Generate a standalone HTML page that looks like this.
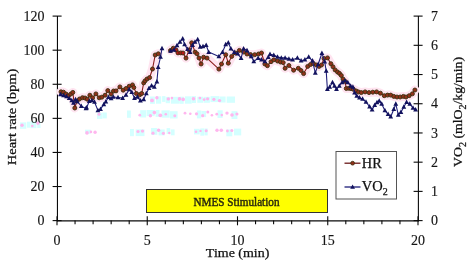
<!DOCTYPE html>
<html><head><meta charset="utf-8"><style>
html,body{margin:0;padding:0;background:#fff;}
svg{display:block;filter:blur(0.25px);}
.t{font-family:"Liberation Serif",serif;font-size:14px;fill:#151515;stroke:#151515;stroke-width:0.14px;}
.s{font-family:"Liberation Serif",serif;font-size:12px;fill:#2a2a10;stroke:#2a2a10;stroke-width:0.45px;}
.a{font-family:"Liberation Serif",serif;font-size:13px;fill:#111;stroke:#111;stroke-width:0.25px;}
.l{font-family:"Liberation Serif",serif;font-size:14.5px;fill:#111;stroke:#111;stroke-width:0.25px;}
</style></head><body>
<svg width="470" height="265" viewBox="0 0 470 265">
<rect x="150.0" y="96.5" width="4.9" height="7.4" fill="#d4ffff"/>
<rect x="156.0" y="96.3" width="5.2" height="7.4" fill="#d4ffff"/>
<rect x="162.1" y="96.1" width="3.4" height="5.8" fill="#d4ffff"/>
<rect x="165.7" y="96.9" width="4.3" height="6.3" fill="#d4ffff"/>
<rect x="170.9" y="96.8" width="8.9" height="6.9" fill="#d4ffff"/>
<rect x="180.0" y="96.7" width="3.7" height="7.1" fill="#d4ffff"/>
<rect x="184.9" y="96.3" width="6.8" height="7.4" fill="#d4ffff"/>
<rect x="191.8" y="96.1" width="4.2" height="6.9" fill="#d4ffff"/>
<rect x="197.3" y="96.7" width="5.7" height="6.1" fill="#d4ffff"/>
<rect x="203.5" y="96.8" width="6.4" height="6.0" fill="#d4ffff"/>
<rect x="210.5" y="96.1" width="8.9" height="6.0" fill="#d4ffff"/>
<rect x="219.7" y="96.5" width="5.9" height="6.0" fill="#d4ffff"/>
<rect x="226.7" y="96.5" width="8.3" height="6.3" fill="#d4ffff"/>
<circle cx="152.0" cy="100.4" r="1.9" fill="#ffb6ee"/>
<circle cx="156.9" cy="97.7" r="1.7" fill="#ffb6ee"/>
<circle cx="168.3" cy="98.9" r="1.7" fill="#ffb6ee"/>
<circle cx="171.9" cy="98.1" r="1.3" fill="#ffb6ee"/>
<circle cx="179.5" cy="98.9" r="1.8" fill="#ffb6ee"/>
<circle cx="183.2" cy="99.4" r="1.8" fill="#ffb6ee"/>
<circle cx="193.5" cy="98.8" r="1.8" fill="#ffb6ee"/>
<circle cx="199.9" cy="98.1" r="1.4" fill="#ffb6ee"/>
<circle cx="204.1" cy="99.6" r="1.4" fill="#ffb6ee"/>
<circle cx="207.6" cy="98.8" r="1.6" fill="#ffb6ee"/>
<circle cx="213.9" cy="99.3" r="1.6" fill="#ffb6ee"/>
<circle cx="219.5" cy="100.6" r="1.7" fill="#ffb6ee"/>
<rect x="97.0" y="113.0" width="5.4" height="5.9" fill="#d4ffff"/>
<rect x="102.5" y="112.5" width="4.3" height="5.9" fill="#d4ffff"/>
<circle cx="99.0" cy="114.2" r="1.5" fill="#ffb6ee"/>
<rect x="127.0" y="110.5" width="3.9" height="7.3" fill="#d4ffff"/>
<rect x="140.2" y="110.2" width="5.9" height="7.3" fill="#d4ffff"/>
<rect x="146.6" y="110.0" width="8.0" height="6.1" fill="#d4ffff"/>
<rect x="155.6" y="110.0" width="3.9" height="6.9" fill="#d4ffff"/>
<rect x="161.5" y="110.4" width="8.2" height="7.3" fill="#d4ffff"/>
<rect x="170.0" y="111.2" width="7.6" height="7.3" fill="#d4ffff"/>
<rect x="196.9" y="110.5" width="4.4" height="7.9" fill="#d4ffff"/>
<rect x="201.4" y="111.0" width="4.7" height="6.1" fill="#d4ffff"/>
<rect x="217.5" y="110.3" width="5.2" height="7.6" fill="#d4ffff"/>
<rect x="231.5" y="111.2" width="5.9" height="7.8" fill="#d4ffff"/>
<circle cx="139.8" cy="115.2" r="1.4" fill="#ffb6ee"/>
<circle cx="150.4" cy="115.8" r="1.7" fill="#ffb6ee"/>
<circle cx="154.4" cy="112.6" r="1.8" fill="#ffb6ee"/>
<circle cx="160.3" cy="115.3" r="1.9" fill="#ffb6ee"/>
<circle cx="165.8" cy="114.2" r="1.3" fill="#ffb6ee"/>
<circle cx="174.8" cy="115.7" r="1.5" fill="#ffb6ee"/>
<circle cx="185.0" cy="113.2" r="1.4" fill="#ffb6ee"/>
<circle cx="190.3" cy="113.7" r="1.3" fill="#ffb6ee"/>
<circle cx="196.5" cy="113.8" r="1.6" fill="#ffb6ee"/>
<circle cx="202.7" cy="115.7" r="1.6" fill="#ffb6ee"/>
<circle cx="207.8" cy="112.1" r="1.5" fill="#ffb6ee"/>
<circle cx="211.9" cy="115.2" r="1.3" fill="#ffb6ee"/>
<circle cx="216.8" cy="114.2" r="1.4" fill="#ffb6ee"/>
<circle cx="221.8" cy="115.1" r="1.3" fill="#ffb6ee"/>
<circle cx="227.0" cy="113.1" r="1.7" fill="#ffb6ee"/>
<circle cx="232.0" cy="115.0" r="1.8" fill="#ffb6ee"/>
<circle cx="236.9" cy="114.0" r="1.6" fill="#ffb6ee"/>
<rect x="85.0" y="129.7" width="5.7" height="4.1" fill="#d4ffff"/>
<circle cx="87.0" cy="132.9" r="1.8" fill="#ffb6ee"/>
<circle cx="90.9" cy="131.9" r="1.3" fill="#ffb6ee"/>
<circle cx="95.1" cy="132.3" r="1.7" fill="#ffb6ee"/>
<rect x="130.0" y="129.0" width="3.9" height="7.2" fill="#d4ffff"/>
<rect x="135.7" y="129.4" width="8.8" height="6.7" fill="#d4ffff"/>
<circle cx="138.0" cy="131.5" r="1.6" fill="#ffb6ee"/>
<circle cx="142.5" cy="131.1" r="1.7" fill="#ffb6ee"/>
<rect x="151.0" y="128.0" width="6.3" height="6.8" fill="#d4ffff"/>
<rect x="158.6" y="129.5" width="6.1" height="5.9" fill="#d4ffff"/>
<rect x="166.6" y="128.1" width="3.6" height="5.9" fill="#d4ffff"/>
<rect x="170.8" y="129.4" width="3.8" height="5.9" fill="#d4ffff"/>
<circle cx="153.0" cy="133.2" r="1.6" fill="#ffb6ee"/>
<circle cx="158.6" cy="130.2" r="1.7" fill="#ffb6ee"/>
<circle cx="163.4" cy="133.3" r="1.6" fill="#ffb6ee"/>
<circle cx="169.3" cy="133.0" r="1.2" fill="#ffb6ee"/>
<rect x="194.0" y="128.8" width="5.7" height="5.6" fill="#d4ffff"/>
<rect x="200.3" y="128.4" width="3.8" height="7.3" fill="#d4ffff"/>
<rect x="204.4" y="128.5" width="3.3" height="6.9" fill="#d4ffff"/>
<circle cx="196.0" cy="131.8" r="1.3" fill="#ffb6ee"/>
<circle cx="200.5" cy="130.9" r="1.2" fill="#ffb6ee"/>
<circle cx="206.2" cy="130.7" r="1.5" fill="#ffb6ee"/>
<rect x="226.3" y="129.5" width="6.0" height="6.8" fill="#d4ffff"/>
<rect x="234.0" y="128.6" width="7.2" height="6.8" fill="#d4ffff"/>
<circle cx="217.0" cy="130.2" r="1.7" fill="#ffb6ee"/>
<circle cx="221.3" cy="130.3" r="1.8" fill="#ffb6ee"/>
<circle cx="227.4" cy="131.0" r="1.4" fill="#ffb6ee"/>
<circle cx="231.8" cy="130.6" r="1.5" fill="#ffb6ee"/>
<rect x="20.0" y="122.4" width="6.3" height="6.4" fill="#d4ffff"/>
<rect x="27.0" y="121.7" width="3.0" height="6.0" fill="#d4ffff"/>
<rect x="30.4" y="121.4" width="6.0" height="6.8" fill="#d4ffff"/>
<rect x="37.2" y="121.5" width="3.3" height="6.5" fill="#d4ffff"/>
<circle cx="22.0" cy="125.3" r="1.7" fill="#ffb6ee"/>
<circle cx="32.3" cy="126.0" r="1.3" fill="#ffb6ee"/>
<circle cx="38.0" cy="123.1" r="1.8" fill="#ffb6ee"/>
<line x1="57.45" y1="16.1" x2="57.45" y2="221.4" stroke="#0a0a0a" stroke-width="1.1"/>
<line x1="418.4" y1="16.1" x2="418.4" y2="221.4" stroke="#0a0a0a" stroke-width="1.1"/>
<line x1="57.45" y1="220.85" x2="418.4" y2="220.85" stroke="#0a0a0a" stroke-width="1.15"/>
<line x1="52.6" y1="220.60" x2="61.6" y2="220.60" stroke="#0a0a0a" stroke-width="1.1"/>
<text x="44.6" y="225.40" text-anchor="end" class="t">0</text>
<line x1="52.6" y1="186.52" x2="61.6" y2="186.52" stroke="#0a0a0a" stroke-width="1.1"/>
<text x="44.6" y="191.32" text-anchor="end" class="t">20</text>
<line x1="52.6" y1="152.43" x2="61.6" y2="152.43" stroke="#0a0a0a" stroke-width="1.1"/>
<text x="44.6" y="157.23" text-anchor="end" class="t">40</text>
<line x1="52.6" y1="118.35" x2="61.6" y2="118.35" stroke="#0a0a0a" stroke-width="1.1"/>
<text x="44.6" y="123.15" text-anchor="end" class="t">60</text>
<line x1="52.6" y1="84.27" x2="61.6" y2="84.27" stroke="#0a0a0a" stroke-width="1.1"/>
<text x="44.6" y="89.07" text-anchor="end" class="t">80</text>
<line x1="52.6" y1="50.18" x2="61.6" y2="50.18" stroke="#0a0a0a" stroke-width="1.1"/>
<text x="44.6" y="54.98" text-anchor="end" class="t">100</text>
<line x1="52.6" y1="16.10" x2="61.6" y2="16.10" stroke="#0a0a0a" stroke-width="1.1"/>
<text x="44.6" y="20.90" text-anchor="end" class="t">120</text>
<line x1="413.6" y1="220.60" x2="422.6" y2="220.60" stroke="#0a0a0a" stroke-width="1.1"/>
<text x="431" y="225.20" class="t">0</text>
<line x1="413.6" y1="191.39" x2="422.6" y2="191.39" stroke="#0a0a0a" stroke-width="1.1"/>
<text x="431" y="195.99" class="t">1</text>
<line x1="413.6" y1="162.17" x2="422.6" y2="162.17" stroke="#0a0a0a" stroke-width="1.1"/>
<text x="431" y="166.77" class="t">2</text>
<line x1="413.6" y1="132.96" x2="422.6" y2="132.96" stroke="#0a0a0a" stroke-width="1.1"/>
<text x="431" y="137.56" class="t">3</text>
<line x1="413.6" y1="103.74" x2="422.6" y2="103.74" stroke="#0a0a0a" stroke-width="1.1"/>
<text x="431" y="108.34" class="t">4</text>
<line x1="413.6" y1="74.53" x2="422.6" y2="74.53" stroke="#0a0a0a" stroke-width="1.1"/>
<text x="431" y="79.13" class="t">5</text>
<line x1="413.6" y1="45.31" x2="422.6" y2="45.31" stroke="#0a0a0a" stroke-width="1.1"/>
<text x="431" y="49.91" class="t">6</text>
<line x1="413.6" y1="16.10" x2="422.6" y2="16.10" stroke="#0a0a0a" stroke-width="1.1"/>
<text x="431" y="20.70" class="t">7</text>
<line x1="57.00" y1="216.3" x2="57.00" y2="225.3" stroke="#0a0a0a" stroke-width="1.1"/>
<text x="57.00" y="245" text-anchor="middle" class="t">0</text>
<line x1="75.05" y1="220.6" x2="75.05" y2="224.2" stroke="#0a0a0a" stroke-width="1.1"/>
<line x1="93.10" y1="220.6" x2="93.10" y2="224.2" stroke="#0a0a0a" stroke-width="1.1"/>
<line x1="111.15" y1="220.6" x2="111.15" y2="224.2" stroke="#0a0a0a" stroke-width="1.1"/>
<line x1="129.20" y1="220.6" x2="129.20" y2="224.2" stroke="#0a0a0a" stroke-width="1.1"/>
<line x1="147.25" y1="216.3" x2="147.25" y2="225.3" stroke="#0a0a0a" stroke-width="1.1"/>
<text x="147.25" y="245" text-anchor="middle" class="t">5</text>
<line x1="165.30" y1="220.6" x2="165.30" y2="224.2" stroke="#0a0a0a" stroke-width="1.1"/>
<line x1="183.35" y1="220.6" x2="183.35" y2="224.2" stroke="#0a0a0a" stroke-width="1.1"/>
<line x1="201.40" y1="220.6" x2="201.40" y2="224.2" stroke="#0a0a0a" stroke-width="1.1"/>
<line x1="219.45" y1="220.6" x2="219.45" y2="224.2" stroke="#0a0a0a" stroke-width="1.1"/>
<line x1="237.50" y1="216.3" x2="237.50" y2="225.3" stroke="#0a0a0a" stroke-width="1.1"/>
<text x="237.50" y="245" text-anchor="middle" class="t">10</text>
<line x1="255.55" y1="220.6" x2="255.55" y2="224.2" stroke="#0a0a0a" stroke-width="1.1"/>
<line x1="273.60" y1="220.6" x2="273.60" y2="224.2" stroke="#0a0a0a" stroke-width="1.1"/>
<line x1="291.65" y1="220.6" x2="291.65" y2="224.2" stroke="#0a0a0a" stroke-width="1.1"/>
<line x1="309.70" y1="220.6" x2="309.70" y2="224.2" stroke="#0a0a0a" stroke-width="1.1"/>
<line x1="327.75" y1="216.3" x2="327.75" y2="225.3" stroke="#0a0a0a" stroke-width="1.1"/>
<text x="327.75" y="245" text-anchor="middle" class="t">15</text>
<line x1="345.80" y1="220.6" x2="345.80" y2="224.2" stroke="#0a0a0a" stroke-width="1.1"/>
<line x1="363.85" y1="220.6" x2="363.85" y2="224.2" stroke="#0a0a0a" stroke-width="1.1"/>
<line x1="381.90" y1="220.6" x2="381.90" y2="224.2" stroke="#0a0a0a" stroke-width="1.1"/>
<line x1="399.95" y1="220.6" x2="399.95" y2="224.2" stroke="#0a0a0a" stroke-width="1.1"/>
<line x1="418.00" y1="216.3" x2="418.00" y2="225.3" stroke="#0a0a0a" stroke-width="1.1"/>
<text x="418.00" y="245" text-anchor="middle" class="t">20</text>
<rect x="146.5" y="189.5" width="181" height="23" fill="#ffff00" stroke="#333" stroke-width="1"/>
<text x="236.5" y="205.6" text-anchor="middle" class="s" textLength="86" lengthAdjust="spacingAndGlyphs">NMES Stimulation</text>
<polyline points="61.0,91.8 63.5,92.2 66.0,94.0 68.5,95.8 70.8,94.0 72.8,92.4 74.8,108.0 77.0,101.0 79.5,99.0 82.5,97.7 85.0,98.0 87.3,99.2 89.9,95.2 92.6,97.8 95.9,93.9 99.2,97.8 101.8,97.2 105.1,95.2 107.8,90.6 111.1,93.9 113.5,91.0 116.0,90.9 119.9,86.9 123.2,90.2 126.0,88.5 129.2,86.2 132.5,84.9 133.8,87.5 136.4,93.5 139.7,94.8 141.7,93.5 143.7,82.9 145.0,80.9 147.0,79.0 149.6,77.6 152.5,69.0 155.2,55.0 158.3,53.8" fill="none" stroke="#ffe4f0" stroke-width="9" stroke-linejoin="round" stroke-linecap="round"/>
<polyline points="170.5,50.5 173.3,48.2 176.0,50.0 178.0,52.9 180.8,52.9 183.0,53.0 186.0,58.1 189.0,50.0 191.7,42.8 195.1,52.1 197.0,53.8 199.0,58.0 201.1,64.0 203.6,57.2 207.0,58.1 218.9,69.1 221.5,64.0 225.7,54.7 228.3,63.2 231.7,56.4 235.5,53.0 239.4,50.4 243.5,52.0 247.0,54.0 250.5,54.6 254.7,54.7 258.5,54.0 261.5,53.0 264.9,64.0 267.4,65.7 271.0,61.7 273.8,59.8 277.5,61.0 280.5,62.0 283.2,62.6 285.1,68.3 288.9,65.5 293.6,70.2 298.3,68.3 301.0,70.5 303.6,73.6 307.7,66.4 310.5,64.5 313.4,63.6 316.3,65.0 319.1,66.4 321.5,65.0 324.0,58.5 327.5,57.9 330.9,63.7 333.0,66.8 335.1,69.9 337.5,72.0 339.5,73.4 341.3,75.5 343.0,79.0 345.0,81.3 346.3,88.5 348.9,88.3 351.0,88.6 353.4,89.3 356.3,91.0 358.5,92.0 361.3,92.6 365.1,91.9 369.0,92.6 372.8,92.2 376.6,91.9 380.4,93.2 384.3,95.7 387.5,95.1 390.7,95.1 393.8,96.4 397.0,97.0 400.2,97.0 403.4,96.4 406.0,97.0 409.2,95.7 412.4,93.8 414.9,90.0" fill="none" stroke="#ffe4f0" stroke-width="9" stroke-linejoin="round" stroke-linecap="round"/>
<polyline points="61.0,91.8 63.5,92.2 66.0,94.0 68.5,95.8 70.8,94.0 72.8,92.4 74.8,108.0 77.0,101.0 79.5,99.0 82.5,97.7 85.0,98.0 87.3,99.2 89.9,95.2 92.6,97.8 95.9,93.9 99.2,97.8 101.8,97.2 105.1,95.2 107.8,90.6 111.1,93.9 113.5,91.0 116.0,90.9 119.9,86.9 123.2,90.2 126.0,88.5 129.2,86.2 132.5,84.9 133.8,87.5 136.4,93.5 139.7,94.8 141.7,93.5 143.7,82.9 145.0,80.9 147.0,79.0 149.6,77.6 152.5,69.0 155.2,55.0 158.3,53.8" fill="none" stroke="#8b1a1a" stroke-width="1.1" stroke-linejoin="round"/>
<polyline points="170.5,50.5 173.3,48.2 176.0,50.0 178.0,52.9 180.8,52.9 183.0,53.0 186.0,58.1 189.0,50.0 191.7,42.8 195.1,52.1 197.0,53.8 199.0,58.0 201.1,64.0 203.6,57.2 207.0,58.1 218.9,69.1 221.5,64.0 225.7,54.7 228.3,63.2 231.7,56.4 235.5,53.0 239.4,50.4 243.5,52.0 247.0,54.0 250.5,54.6 254.7,54.7 258.5,54.0 261.5,53.0 264.9,64.0 267.4,65.7 271.0,61.7 273.8,59.8 277.5,61.0 280.5,62.0 283.2,62.6 285.1,68.3 288.9,65.5 293.6,70.2 298.3,68.3 301.0,70.5 303.6,73.6 307.7,66.4 310.5,64.5 313.4,63.6 316.3,65.0 319.1,66.4 321.5,65.0 324.0,58.5 327.5,57.9 330.9,63.7 333.0,66.8 335.1,69.9 337.5,72.0 339.5,73.4 341.3,75.5 343.0,79.0 345.0,81.3 346.3,88.5 348.9,88.3 351.0,88.6 353.4,89.3 356.3,91.0 358.5,92.0 361.3,92.6 365.1,91.9 369.0,92.6 372.8,92.2 376.6,91.9 380.4,93.2 384.3,95.7 387.5,95.1 390.7,95.1 393.8,96.4 397.0,97.0 400.2,97.0 403.4,96.4 406.0,97.0 409.2,95.7 412.4,93.8 414.9,90.0" fill="none" stroke="#8b1a1a" stroke-width="1.1" stroke-linejoin="round"/>
<circle cx="61.0" cy="91.8" r="2.0" fill="#92301a" stroke="#3a3010" stroke-width="0.9"/>
<circle cx="63.5" cy="92.2" r="2.0" fill="#92301a" stroke="#3a3010" stroke-width="0.9"/>
<circle cx="66.0" cy="94.0" r="2.0" fill="#92301a" stroke="#3a3010" stroke-width="0.9"/>
<circle cx="68.5" cy="95.8" r="2.0" fill="#92301a" stroke="#3a3010" stroke-width="0.9"/>
<circle cx="70.8" cy="94.0" r="2.0" fill="#92301a" stroke="#3a3010" stroke-width="0.9"/>
<circle cx="72.8" cy="92.4" r="2.0" fill="#92301a" stroke="#3a3010" stroke-width="0.9"/>
<circle cx="74.8" cy="108.0" r="2.0" fill="#92301a" stroke="#3a3010" stroke-width="0.9"/>
<circle cx="77.0" cy="101.0" r="2.0" fill="#92301a" stroke="#3a3010" stroke-width="0.9"/>
<circle cx="79.5" cy="99.0" r="2.0" fill="#92301a" stroke="#3a3010" stroke-width="0.9"/>
<circle cx="82.5" cy="97.7" r="2.0" fill="#92301a" stroke="#3a3010" stroke-width="0.9"/>
<circle cx="85.0" cy="98.0" r="2.0" fill="#92301a" stroke="#3a3010" stroke-width="0.9"/>
<circle cx="87.3" cy="99.2" r="2.0" fill="#92301a" stroke="#3a3010" stroke-width="0.9"/>
<circle cx="89.9" cy="95.2" r="2.0" fill="#92301a" stroke="#3a3010" stroke-width="0.9"/>
<circle cx="92.6" cy="97.8" r="2.0" fill="#92301a" stroke="#3a3010" stroke-width="0.9"/>
<circle cx="95.9" cy="93.9" r="2.0" fill="#92301a" stroke="#3a3010" stroke-width="0.9"/>
<circle cx="99.2" cy="97.8" r="2.0" fill="#92301a" stroke="#3a3010" stroke-width="0.9"/>
<circle cx="101.8" cy="97.2" r="2.0" fill="#92301a" stroke="#3a3010" stroke-width="0.9"/>
<circle cx="105.1" cy="95.2" r="2.0" fill="#92301a" stroke="#3a3010" stroke-width="0.9"/>
<circle cx="107.8" cy="90.6" r="2.0" fill="#92301a" stroke="#3a3010" stroke-width="0.9"/>
<circle cx="111.1" cy="93.9" r="2.0" fill="#92301a" stroke="#3a3010" stroke-width="0.9"/>
<circle cx="113.5" cy="91.0" r="2.0" fill="#92301a" stroke="#3a3010" stroke-width="0.9"/>
<circle cx="116.0" cy="90.9" r="2.0" fill="#92301a" stroke="#3a3010" stroke-width="0.9"/>
<circle cx="119.9" cy="86.9" r="2.0" fill="#92301a" stroke="#3a3010" stroke-width="0.9"/>
<circle cx="123.2" cy="90.2" r="2.0" fill="#92301a" stroke="#3a3010" stroke-width="0.9"/>
<circle cx="126.0" cy="88.5" r="2.0" fill="#92301a" stroke="#3a3010" stroke-width="0.9"/>
<circle cx="129.2" cy="86.2" r="2.0" fill="#92301a" stroke="#3a3010" stroke-width="0.9"/>
<circle cx="132.5" cy="84.9" r="2.0" fill="#92301a" stroke="#3a3010" stroke-width="0.9"/>
<circle cx="133.8" cy="87.5" r="2.0" fill="#92301a" stroke="#3a3010" stroke-width="0.9"/>
<circle cx="136.4" cy="93.5" r="2.0" fill="#92301a" stroke="#3a3010" stroke-width="0.9"/>
<circle cx="139.7" cy="94.8" r="2.0" fill="#92301a" stroke="#3a3010" stroke-width="0.9"/>
<circle cx="141.7" cy="93.5" r="2.0" fill="#92301a" stroke="#3a3010" stroke-width="0.9"/>
<circle cx="143.7" cy="82.9" r="2.0" fill="#92301a" stroke="#3a3010" stroke-width="0.9"/>
<circle cx="145.0" cy="80.9" r="2.0" fill="#92301a" stroke="#3a3010" stroke-width="0.9"/>
<circle cx="147.0" cy="79.0" r="2.0" fill="#92301a" stroke="#3a3010" stroke-width="0.9"/>
<circle cx="149.6" cy="77.6" r="2.0" fill="#92301a" stroke="#3a3010" stroke-width="0.9"/>
<circle cx="152.5" cy="69.0" r="2.0" fill="#92301a" stroke="#3a3010" stroke-width="0.9"/>
<circle cx="155.2" cy="55.0" r="2.0" fill="#92301a" stroke="#3a3010" stroke-width="0.9"/>
<circle cx="158.3" cy="53.8" r="2.0" fill="#92301a" stroke="#3a3010" stroke-width="0.9"/>
<circle cx="170.5" cy="50.5" r="2.0" fill="#92301a" stroke="#3a3010" stroke-width="0.9"/>
<circle cx="173.3" cy="48.2" r="2.0" fill="#92301a" stroke="#3a3010" stroke-width="0.9"/>
<circle cx="176.0" cy="50.0" r="2.0" fill="#b81818" stroke="#3a3010" stroke-width="0.9"/>
<circle cx="178.0" cy="52.9" r="2.0" fill="#b81818" stroke="#3a3010" stroke-width="0.9"/>
<circle cx="180.8" cy="52.9" r="2.0" fill="#b81818" stroke="#3a3010" stroke-width="0.9"/>
<circle cx="183.0" cy="53.0" r="2.0" fill="#b81818" stroke="#3a3010" stroke-width="0.9"/>
<circle cx="186.0" cy="58.1" r="2.0" fill="#92301a" stroke="#3a3010" stroke-width="0.9"/>
<circle cx="189.0" cy="50.0" r="2.0" fill="#92301a" stroke="#3a3010" stroke-width="0.9"/>
<circle cx="191.7" cy="42.8" r="2.0" fill="#92301a" stroke="#3a3010" stroke-width="0.9"/>
<circle cx="195.1" cy="52.1" r="2.0" fill="#92301a" stroke="#3a3010" stroke-width="0.9"/>
<circle cx="197.0" cy="53.8" r="2.0" fill="#92301a" stroke="#3a3010" stroke-width="0.9"/>
<circle cx="199.0" cy="58.0" r="2.0" fill="#92301a" stroke="#3a3010" stroke-width="0.9"/>
<circle cx="201.1" cy="64.0" r="2.0" fill="#92301a" stroke="#3a3010" stroke-width="0.9"/>
<circle cx="203.6" cy="57.2" r="2.0" fill="#92301a" stroke="#3a3010" stroke-width="0.9"/>
<circle cx="207.0" cy="58.1" r="2.0" fill="#92301a" stroke="#3a3010" stroke-width="0.9"/>
<circle cx="218.9" cy="69.1" r="2.0" fill="#92301a" stroke="#3a3010" stroke-width="0.9"/>
<circle cx="221.5" cy="64.0" r="2.0" fill="#92301a" stroke="#3a3010" stroke-width="0.9"/>
<circle cx="225.7" cy="54.7" r="2.0" fill="#92301a" stroke="#3a3010" stroke-width="0.9"/>
<circle cx="228.3" cy="63.2" r="2.0" fill="#92301a" stroke="#3a3010" stroke-width="0.9"/>
<circle cx="231.7" cy="56.4" r="2.0" fill="#92301a" stroke="#3a3010" stroke-width="0.9"/>
<circle cx="235.5" cy="53.0" r="2.0" fill="#92301a" stroke="#3a3010" stroke-width="0.9"/>
<circle cx="239.4" cy="50.4" r="2.0" fill="#92301a" stroke="#3a3010" stroke-width="0.9"/>
<circle cx="243.5" cy="52.0" r="2.0" fill="#92301a" stroke="#3a3010" stroke-width="0.9"/>
<circle cx="247.0" cy="54.0" r="2.0" fill="#92301a" stroke="#3a3010" stroke-width="0.9"/>
<circle cx="250.5" cy="54.6" r="2.0" fill="#92301a" stroke="#3a3010" stroke-width="0.9"/>
<circle cx="254.7" cy="54.7" r="2.0" fill="#92301a" stroke="#3a3010" stroke-width="0.9"/>
<circle cx="258.5" cy="54.0" r="2.0" fill="#92301a" stroke="#3a3010" stroke-width="0.9"/>
<circle cx="261.5" cy="53.0" r="2.0" fill="#92301a" stroke="#3a3010" stroke-width="0.9"/>
<circle cx="264.9" cy="64.0" r="2.0" fill="#92301a" stroke="#3a3010" stroke-width="0.9"/>
<circle cx="267.4" cy="65.7" r="2.0" fill="#92301a" stroke="#3a3010" stroke-width="0.9"/>
<circle cx="271.0" cy="61.7" r="2.0" fill="#92301a" stroke="#3a3010" stroke-width="0.9"/>
<circle cx="273.8" cy="59.8" r="2.0" fill="#92301a" stroke="#3a3010" stroke-width="0.9"/>
<circle cx="277.5" cy="61.0" r="2.0" fill="#92301a" stroke="#3a3010" stroke-width="0.9"/>
<circle cx="280.5" cy="62.0" r="2.0" fill="#92301a" stroke="#3a3010" stroke-width="0.9"/>
<circle cx="283.2" cy="62.6" r="2.0" fill="#92301a" stroke="#3a3010" stroke-width="0.9"/>
<circle cx="285.1" cy="68.3" r="2.0" fill="#92301a" stroke="#3a3010" stroke-width="0.9"/>
<circle cx="288.9" cy="65.5" r="2.0" fill="#92301a" stroke="#3a3010" stroke-width="0.9"/>
<circle cx="293.6" cy="70.2" r="2.0" fill="#92301a" stroke="#3a3010" stroke-width="0.9"/>
<circle cx="298.3" cy="68.3" r="2.0" fill="#92301a" stroke="#3a3010" stroke-width="0.9"/>
<circle cx="301.0" cy="70.5" r="2.0" fill="#92301a" stroke="#3a3010" stroke-width="0.9"/>
<circle cx="303.6" cy="73.6" r="2.0" fill="#92301a" stroke="#3a3010" stroke-width="0.9"/>
<circle cx="307.7" cy="66.4" r="2.0" fill="#92301a" stroke="#3a3010" stroke-width="0.9"/>
<circle cx="310.5" cy="64.5" r="2.0" fill="#92301a" stroke="#3a3010" stroke-width="0.9"/>
<circle cx="313.4" cy="63.6" r="2.0" fill="#92301a" stroke="#3a3010" stroke-width="0.9"/>
<circle cx="316.3" cy="65.0" r="2.0" fill="#92301a" stroke="#3a3010" stroke-width="0.9"/>
<circle cx="319.1" cy="66.4" r="2.0" fill="#92301a" stroke="#3a3010" stroke-width="0.9"/>
<circle cx="321.5" cy="65.0" r="2.0" fill="#92301a" stroke="#3a3010" stroke-width="0.9"/>
<circle cx="324.0" cy="58.5" r="2.0" fill="#92301a" stroke="#3a3010" stroke-width="0.9"/>
<circle cx="327.5" cy="57.9" r="2.0" fill="#92301a" stroke="#3a3010" stroke-width="0.9"/>
<circle cx="330.9" cy="63.7" r="2.0" fill="#92301a" stroke="#3a3010" stroke-width="0.9"/>
<circle cx="333.0" cy="66.8" r="2.0" fill="#92301a" stroke="#3a3010" stroke-width="0.9"/>
<circle cx="335.1" cy="69.9" r="2.0" fill="#92301a" stroke="#3a3010" stroke-width="0.9"/>
<circle cx="337.5" cy="72.0" r="2.0" fill="#92301a" stroke="#3a3010" stroke-width="0.9"/>
<circle cx="339.5" cy="73.4" r="2.0" fill="#92301a" stroke="#3a3010" stroke-width="0.9"/>
<circle cx="341.3" cy="75.5" r="2.0" fill="#92301a" stroke="#3a3010" stroke-width="0.9"/>
<circle cx="343.0" cy="79.0" r="2.0" fill="#92301a" stroke="#3a3010" stroke-width="0.9"/>
<circle cx="345.0" cy="81.3" r="2.0" fill="#92301a" stroke="#3a3010" stroke-width="0.9"/>
<circle cx="346.3" cy="88.5" r="2.0" fill="#92301a" stroke="#3a3010" stroke-width="0.9"/>
<circle cx="348.9" cy="88.3" r="2.0" fill="#92301a" stroke="#3a3010" stroke-width="0.9"/>
<circle cx="351.0" cy="88.6" r="2.0" fill="#92301a" stroke="#3a3010" stroke-width="0.9"/>
<circle cx="353.4" cy="89.3" r="2.0" fill="#92301a" stroke="#3a3010" stroke-width="0.9"/>
<circle cx="356.3" cy="91.0" r="2.0" fill="#92301a" stroke="#3a3010" stroke-width="0.9"/>
<circle cx="358.5" cy="92.0" r="2.0" fill="#92301a" stroke="#3a3010" stroke-width="0.9"/>
<circle cx="361.3" cy="92.6" r="2.0" fill="#92301a" stroke="#3a3010" stroke-width="0.9"/>
<circle cx="365.1" cy="91.9" r="2.0" fill="#92301a" stroke="#3a3010" stroke-width="0.9"/>
<circle cx="369.0" cy="92.6" r="2.0" fill="#92301a" stroke="#3a3010" stroke-width="0.9"/>
<circle cx="372.8" cy="92.2" r="2.0" fill="#92301a" stroke="#3a3010" stroke-width="0.9"/>
<circle cx="376.6" cy="91.9" r="2.0" fill="#92301a" stroke="#3a3010" stroke-width="0.9"/>
<circle cx="380.4" cy="93.2" r="2.0" fill="#92301a" stroke="#3a3010" stroke-width="0.9"/>
<circle cx="384.3" cy="95.7" r="2.0" fill="#92301a" stroke="#3a3010" stroke-width="0.9"/>
<circle cx="387.5" cy="95.1" r="2.0" fill="#92301a" stroke="#3a3010" stroke-width="0.9"/>
<circle cx="390.7" cy="95.1" r="2.0" fill="#92301a" stroke="#3a3010" stroke-width="0.9"/>
<circle cx="393.8" cy="96.4" r="2.0" fill="#92301a" stroke="#3a3010" stroke-width="0.9"/>
<circle cx="397.0" cy="97.0" r="2.0" fill="#92301a" stroke="#3a3010" stroke-width="0.9"/>
<circle cx="400.2" cy="97.0" r="2.0" fill="#92301a" stroke="#3a3010" stroke-width="0.9"/>
<circle cx="403.4" cy="96.4" r="2.0" fill="#92301a" stroke="#3a3010" stroke-width="0.9"/>
<circle cx="406.0" cy="97.0" r="2.0" fill="#92301a" stroke="#3a3010" stroke-width="0.9"/>
<circle cx="409.2" cy="95.7" r="2.0" fill="#92301a" stroke="#3a3010" stroke-width="0.9"/>
<circle cx="412.4" cy="93.8" r="2.0" fill="#92301a" stroke="#3a3010" stroke-width="0.9"/>
<circle cx="414.9" cy="90.0" r="2.0" fill="#92301a" stroke="#3a3010" stroke-width="0.9"/>
<polyline points="60.5,94.5 63.5,95.5 66.5,96.5 69.2,98.2 71.8,100.5 73.5,103.0 75.5,99.5 77.1,101.4 81.3,106.2 86.0,108.4 86.6,107.7 89.3,101.1 91.9,100.5 94.5,102.0 97.9,110.4 100.5,109.1 103.8,104.4 105.8,101.8 108.4,97.2 111.1,98.5 113.3,97.0 118.0,97.5 122.6,98.1 126.0,95.0 129.2,89.5 131.8,92.2 134.5,98.1 137.5,97.0 140.4,100.8 143.7,99.4 146.3,93.5 149.0,88.2 151.6,85.6 154.3,86.9 156.9,81.6 158.2,67.1 160.5,57.0 162.0,48.5" fill="none" stroke="#20207a" stroke-width="1.1" stroke-linejoin="round"/>
<polyline points="170.5,51.0 174.0,50.0 177.0,45.4 180.0,42.0 182.7,38.8 184.6,44.4 187.5,49.2 190.2,52.1 192.6,45.3 195.0,42.0 197.7,39.4 200.2,47.0 203.0,46.5 206.2,45.3 208.7,52.1 218.9,56.4 222.5,52.1 225.7,44.5 228.3,42.8 230.9,48.7 234.3,52.1 237.7,53.8 241.1,58.1 243.6,48.7 247.0,50.4 251.3,56.4 253.8,61.5 258.1,58.1 261.5,59.8 264.9,61.5 268.3,57.2 270.0,54.2 273.8,55.1 277.5,57.0 281.3,57.9 285.1,57.9 288.9,58.9 292.6,59.8 297.4,57.9 301.1,60.8 304.9,59.8 308.7,57.0 312.5,60.8 315.3,73.0 318.1,64.5 321.9,53.2 324.7,61.7 326.2,71.0 327.4,89.3 329.7,87.0 332.5,82.5 334.5,86.0 336.5,89.3 339.3,85.9 342.1,82.5 345.0,80.8 347.8,82.5 350.6,85.9 352.9,87.0 354.6,92.6 356.8,96.0 359.5,97.7 362.6,98.9 366.0,102.0 369.6,106.6 372.1,109.8 374.7,105.3 377.0,102.5 379.2,100.9 381.7,104.0 384.9,110.4 388.1,114.3 390.7,116.8 393.8,109.2 395.8,104.0 398.3,114.9 400.9,112.3 403.8,107.0 406.6,102.1 409.8,104.0 413.0,107.9 415.6,109.8" fill="none" stroke="#20207a" stroke-width="1.1" stroke-linejoin="round"/>
<path d="M60.5,91.8L62.9,96.3L58.1,96.3Z" fill="#12125e"/>
<path d="M63.5,92.8L65.9,97.3L61.1,97.3Z" fill="#12125e"/>
<path d="M66.5,93.8L68.9,98.3L64.1,98.3Z" fill="#12125e"/>
<path d="M69.2,95.5L71.6,100.0L66.8,100.0Z" fill="#12125e"/>
<path d="M71.8,97.8L74.2,102.3L69.4,102.3Z" fill="#12125e"/>
<path d="M73.5,100.3L75.9,104.8L71.1,104.8Z" fill="#12125e"/>
<path d="M75.5,96.8L77.9,101.3L73.1,101.3Z" fill="#12125e"/>
<path d="M77.1,98.7L79.5,103.2L74.7,103.2Z" fill="#12125e"/>
<path d="M81.3,103.5L83.7,108.0L78.9,108.0Z" fill="#12125e"/>
<path d="M86.0,105.7L88.4,110.2L83.6,110.2Z" fill="#12125e"/>
<path d="M86.6,105.0L89.0,109.5L84.2,109.5Z" fill="#12125e"/>
<path d="M89.3,98.4L91.7,102.9L86.9,102.9Z" fill="#12125e"/>
<path d="M91.9,97.8L94.3,102.3L89.5,102.3Z" fill="#12125e"/>
<path d="M94.5,99.3L96.9,103.8L92.1,103.8Z" fill="#12125e"/>
<path d="M97.9,107.7L100.3,112.2L95.5,112.2Z" fill="#12125e"/>
<path d="M100.5,106.4L102.9,110.9L98.1,110.9Z" fill="#12125e"/>
<path d="M103.8,101.7L106.2,106.2L101.4,106.2Z" fill="#12125e"/>
<path d="M105.8,99.1L108.2,103.6L103.4,103.6Z" fill="#12125e"/>
<path d="M108.4,94.5L110.8,99.0L106.0,99.0Z" fill="#12125e"/>
<path d="M111.1,95.8L113.5,100.3L108.7,100.3Z" fill="#12125e"/>
<path d="M113.3,94.3L115.7,98.8L110.9,98.8Z" fill="#12125e"/>
<path d="M118.0,94.8L120.4,99.3L115.6,99.3Z" fill="#12125e"/>
<path d="M122.6,95.4L125.0,99.9L120.2,99.9Z" fill="#12125e"/>
<path d="M126.0,92.3L128.4,96.8L123.6,96.8Z" fill="#12125e"/>
<path d="M129.2,86.8L131.6,91.3L126.8,91.3Z" fill="#12125e"/>
<path d="M131.8,89.5L134.2,94.0L129.4,94.0Z" fill="#12125e"/>
<path d="M134.5,95.4L136.9,99.9L132.1,99.9Z" fill="#12125e"/>
<path d="M137.5,94.3L139.9,98.8L135.1,98.8Z" fill="#12125e"/>
<path d="M140.4,98.1L142.8,102.6L138.0,102.6Z" fill="#12125e"/>
<path d="M143.7,96.7L146.1,101.2L141.3,101.2Z" fill="#12125e"/>
<path d="M146.3,90.8L148.7,95.3L143.9,95.3Z" fill="#12125e"/>
<path d="M149.0,85.5L151.4,90.0L146.6,90.0Z" fill="#12125e"/>
<path d="M151.6,82.9L154.0,87.4L149.2,87.4Z" fill="#12125e"/>
<path d="M154.3,84.2L156.7,88.7L151.9,88.7Z" fill="#12125e"/>
<path d="M156.9,78.9L159.3,83.4L154.5,83.4Z" fill="#12125e"/>
<path d="M158.2,64.4L160.6,68.9L155.8,68.9Z" fill="#12125e"/>
<path d="M160.5,54.3L162.9,58.8L158.1,58.8Z" fill="#12125e"/>
<path d="M162.0,45.8L164.4,50.3L159.6,50.3Z" fill="#12125e"/>
<path d="M170.5,48.3L172.9,52.8L168.1,52.8Z" fill="#12125e"/>
<path d="M174.0,47.3L176.4,51.8L171.6,51.8Z" fill="#12125e"/>
<path d="M177.0,42.7L179.4,47.2L174.6,47.2Z" fill="#12125e"/>
<path d="M180.0,39.3L182.4,43.8L177.6,43.8Z" fill="#12125e"/>
<path d="M182.7,36.1L185.1,40.6L180.3,40.6Z" fill="#12125e"/>
<path d="M184.6,41.7L187.0,46.2L182.2,46.2Z" fill="#12125e"/>
<path d="M187.5,46.5L189.9,51.0L185.1,51.0Z" fill="#12125e"/>
<path d="M190.2,49.4L192.6,53.9L187.8,53.9Z" fill="#12125e"/>
<path d="M192.6,42.6L195.0,47.1L190.2,47.1Z" fill="#12125e"/>
<path d="M195.0,39.3L197.4,43.8L192.6,43.8Z" fill="#12125e"/>
<path d="M197.7,36.7L200.1,41.2L195.3,41.2Z" fill="#12125e"/>
<path d="M200.2,44.3L202.6,48.8L197.8,48.8Z" fill="#12125e"/>
<path d="M203.0,43.8L205.4,48.3L200.6,48.3Z" fill="#12125e"/>
<path d="M206.2,42.6L208.6,47.1L203.8,47.1Z" fill="#12125e"/>
<path d="M208.7,49.4L211.1,53.9L206.3,53.9Z" fill="#12125e"/>
<path d="M218.9,53.7L221.3,58.2L216.5,58.2Z" fill="#12125e"/>
<path d="M222.5,49.4L224.9,53.9L220.1,53.9Z" fill="#12125e"/>
<path d="M225.7,41.8L228.1,46.3L223.3,46.3Z" fill="#12125e"/>
<path d="M228.3,40.1L230.7,44.6L225.9,44.6Z" fill="#12125e"/>
<path d="M230.9,46.0L233.3,50.5L228.5,50.5Z" fill="#12125e"/>
<path d="M234.3,49.4L236.7,53.9L231.9,53.9Z" fill="#12125e"/>
<path d="M237.7,51.1L240.1,55.6L235.3,55.6Z" fill="#12125e"/>
<path d="M241.1,55.4L243.5,59.9L238.7,59.9Z" fill="#12125e"/>
<path d="M243.6,46.0L246.0,50.5L241.2,50.5Z" fill="#12125e"/>
<path d="M247.0,47.7L249.4,52.2L244.6,52.2Z" fill="#12125e"/>
<path d="M251.3,53.7L253.7,58.2L248.9,58.2Z" fill="#12125e"/>
<path d="M253.8,58.8L256.2,63.3L251.4,63.3Z" fill="#12125e"/>
<path d="M258.1,55.4L260.5,59.9L255.7,59.9Z" fill="#12125e"/>
<path d="M261.5,57.1L263.9,61.6L259.1,61.6Z" fill="#12125e"/>
<path d="M264.9,58.8L267.3,63.3L262.5,63.3Z" fill="#12125e"/>
<path d="M268.3,54.5L270.7,59.0L265.9,59.0Z" fill="#12125e"/>
<path d="M270.0,51.5L272.4,56.0L267.6,56.0Z" fill="#12125e"/>
<path d="M273.8,52.4L276.2,56.9L271.4,56.9Z" fill="#12125e"/>
<path d="M277.5,54.3L279.9,58.8L275.1,58.8Z" fill="#12125e"/>
<path d="M281.3,55.2L283.7,59.7L278.9,59.7Z" fill="#12125e"/>
<path d="M285.1,55.2L287.5,59.7L282.7,59.7Z" fill="#12125e"/>
<path d="M288.9,56.2L291.3,60.7L286.5,60.7Z" fill="#12125e"/>
<path d="M292.6,57.1L295.0,61.6L290.2,61.6Z" fill="#12125e"/>
<path d="M297.4,55.2L299.8,59.7L295.0,59.7Z" fill="#12125e"/>
<path d="M301.1,58.1L303.5,62.6L298.7,62.6Z" fill="#12125e"/>
<path d="M304.9,57.1L307.3,61.6L302.5,61.6Z" fill="#12125e"/>
<path d="M308.7,54.3L311.1,58.8L306.3,58.8Z" fill="#12125e"/>
<path d="M312.5,58.1L314.9,62.6L310.1,62.6Z" fill="#12125e"/>
<path d="M315.3,70.3L317.7,74.8L312.9,74.8Z" fill="#12125e"/>
<path d="M318.1,61.8L320.5,66.3L315.7,66.3Z" fill="#12125e"/>
<path d="M321.9,50.5L324.3,55.0L319.5,55.0Z" fill="#12125e"/>
<path d="M324.7,59.0L327.1,63.5L322.3,63.5Z" fill="#12125e"/>
<path d="M326.2,68.3L328.6,72.8L323.8,72.8Z" fill="#12125e"/>
<path d="M327.4,86.6L329.8,91.1L325.0,91.1Z" fill="#12125e"/>
<path d="M329.7,84.3L332.1,88.8L327.3,88.8Z" fill="#12125e"/>
<path d="M332.5,79.8L334.9,84.3L330.1,84.3Z" fill="#12125e"/>
<path d="M334.5,83.3L336.9,87.8L332.1,87.8Z" fill="#12125e"/>
<path d="M336.5,86.6L338.9,91.1L334.1,91.1Z" fill="#12125e"/>
<path d="M339.3,83.2L341.7,87.7L336.9,87.7Z" fill="#12125e"/>
<path d="M342.1,79.8L344.5,84.3L339.7,84.3Z" fill="#12125e"/>
<path d="M345.0,78.1L347.4,82.6L342.6,82.6Z" fill="#12125e"/>
<path d="M347.8,79.8L350.2,84.3L345.4,84.3Z" fill="#12125e"/>
<path d="M350.6,83.2L353.0,87.7L348.2,87.7Z" fill="#12125e"/>
<path d="M352.9,84.3L355.3,88.8L350.5,88.8Z" fill="#12125e"/>
<path d="M354.6,89.9L357.0,94.4L352.2,94.4Z" fill="#12125e"/>
<path d="M356.8,93.3L359.2,97.8L354.4,97.8Z" fill="#12125e"/>
<path d="M359.5,95.0L361.9,99.5L357.1,99.5Z" fill="#12125e"/>
<path d="M362.6,96.2L365.0,100.7L360.2,100.7Z" fill="#12125e"/>
<path d="M366.0,99.3L368.4,103.8L363.6,103.8Z" fill="#12125e"/>
<path d="M369.6,103.9L372.0,108.4L367.2,108.4Z" fill="#12125e"/>
<path d="M372.1,107.1L374.5,111.6L369.7,111.6Z" fill="#12125e"/>
<path d="M374.7,102.6L377.1,107.1L372.3,107.1Z" fill="#12125e"/>
<path d="M377.0,99.8L379.4,104.3L374.6,104.3Z" fill="#12125e"/>
<path d="M379.2,98.2L381.6,102.7L376.8,102.7Z" fill="#12125e"/>
<path d="M381.7,101.3L384.1,105.8L379.3,105.8Z" fill="#12125e"/>
<path d="M384.9,107.7L387.3,112.2L382.5,112.2Z" fill="#12125e"/>
<path d="M388.1,111.6L390.5,116.1L385.7,116.1Z" fill="#12125e"/>
<path d="M390.7,114.1L393.1,118.6L388.3,118.6Z" fill="#12125e"/>
<path d="M393.8,106.5L396.2,111.0L391.4,111.0Z" fill="#12125e"/>
<path d="M395.8,101.3L398.2,105.8L393.4,105.8Z" fill="#12125e"/>
<path d="M398.3,112.2L400.7,116.7L395.9,116.7Z" fill="#12125e"/>
<path d="M400.9,109.6L403.3,114.1L398.5,114.1Z" fill="#12125e"/>
<path d="M403.8,104.3L406.2,108.8L401.4,108.8Z" fill="#12125e"/>
<path d="M406.6,99.4L409.0,103.9L404.2,103.9Z" fill="#12125e"/>
<path d="M409.8,101.3L412.2,105.8L407.4,105.8Z" fill="#12125e"/>
<path d="M413.0,105.2L415.4,109.7L410.6,109.7Z" fill="#12125e"/>
<path d="M415.6,107.1L418.0,111.6L413.2,111.6Z" fill="#12125e"/>
<rect x="336" y="151.5" width="60.5" height="47.5" fill="#fff" stroke="#555" stroke-width="1"/>
<line x1="344.5" y1="163.2" x2="360.5" y2="163.2" stroke="#6a1818" stroke-width="1.3"/>
<circle cx="352.6" cy="163.2" r="1.9" fill="#92301a" stroke="#3a3010" stroke-width="0.8"/>
<text x="361.8" y="167.8" class="l" textLength="20" lengthAdjust="spacingAndGlyphs">HR</text>
<line x1="344.5" y1="187" x2="360.5" y2="187" stroke="#1c1c78" stroke-width="1.3"/>
<path d="M352.6,184.4L355,188.7L350.2,188.7Z" fill="#12125e"/>
<text x="361.8" y="191.4" class="l">VO<tspan font-size="10" dy="4">2</tspan></text>
<text transform="translate(16.2,117) rotate(-90)" text-anchor="middle" class="a" textLength="96.5" lengthAdjust="spacingAndGlyphs">Heart rate (bpm)</text>
<text transform="translate(462.2,112) rotate(-90)" text-anchor="middle" class="a" textLength="110" lengthAdjust="spacingAndGlyphs">VO<tspan font-size="9.5" dy="3.5">2</tspan><tspan dy="-3.5"> (mlO</tspan><tspan font-size="9.5" dy="3.5">2</tspan><tspan dy="-3.5">/kg/min)</tspan></text>
<text x="237.6" y="257.2" text-anchor="middle" class="a" textLength="63.5" lengthAdjust="spacingAndGlyphs">Time (min)</text>
</svg>
</body></html>
